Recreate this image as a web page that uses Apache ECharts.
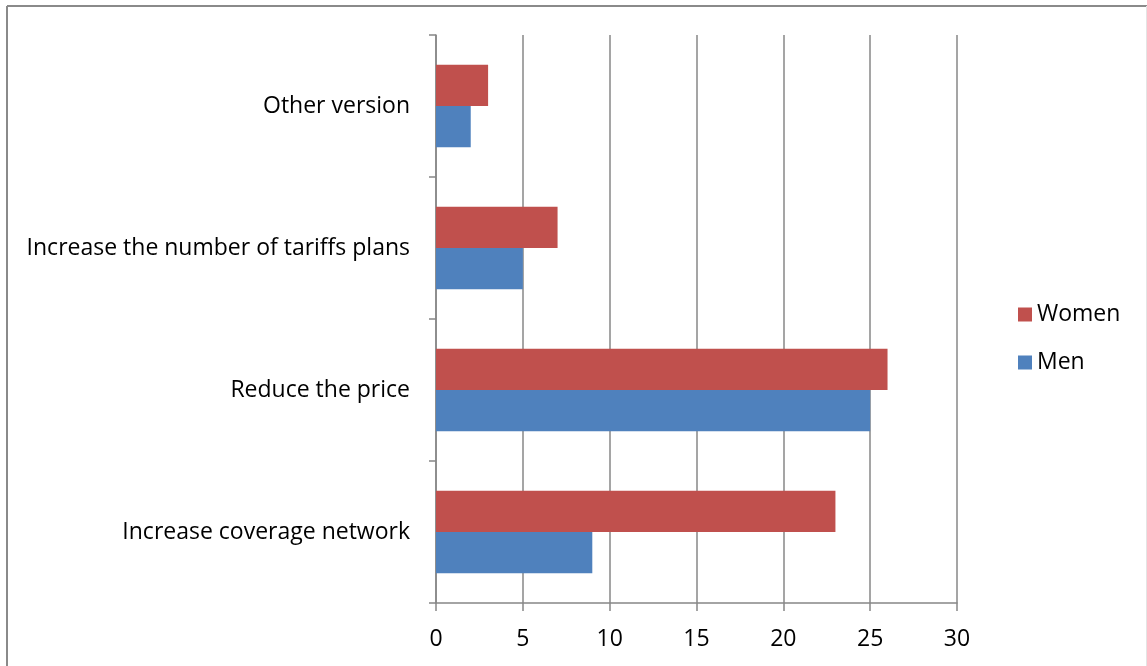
<!DOCTYPE html>
<html>
<head>
<meta charset="utf-8">
<script src="https://cdn.jsdelivr.net/npm/echarts@6/dist/echarts.min.js"></script>
<style>
  html, body { margin: 0; padding: 0; background: #fff; }
  #chart { width: 1147px; height: 666px; }
</style>
</head>
<body>
<div id="chart"></div>
<script>
// Suggested improvements, by respondent group
const categories = [
  'Increase coverage network',
  'Reduce the price',
  'Increase the number of tariffs plans',
  'Other version'
];
const menValues = [9, 25, 5, 2];
const womenValues = [23, 26, 7, 3];
const xTicks = { min: 0, max: 30, interval: 5 };

const FONT = '"Open Sans", Lato, sans-serif';
const FONT_SIZE = 23;
const AXIS_GREY = '#878787';

const chart = echarts.init(document.getElementById('chart'), null, { renderer: 'canvas' });

chart.setOption({
  backgroundColor: '#ffffff',
  animation: false,
  grid: { left: 436, right: 190, top: 35, bottom: 63, containLabel: false },
  legend: {
    data: ['Women', 'Men'],
    orient: 'vertical',
    left: 1013,
    top: 298,
    itemWidth: 14,
    itemHeight: 14,
    itemGap: 25,
    icon: 'rect',
    textStyle: { fontFamily: FONT, fontSize: FONT_SIZE, color: '#000', padding: [0, 0, 0, 0] }
  },
  xAxis: {
    type: 'value',
    min: xTicks.min,
    max: xTicks.max,
    interval: xTicks.interval,
    axisLine: { show: true, lineStyle: { color: AXIS_GREY, width: 1.5 } },
    axisTick: { show: true, length: 8, lineStyle: { color: AXIS_GREY, width: 1.5 } },
    splitLine: { show: true, lineStyle: { color: AXIS_GREY, width: 1.5 } },
    axisLabel: { fontFamily: FONT, fontSize: FONT_SIZE, color: '#000', margin: 25 }
  },
  yAxis: {
    type: 'category',
    data: categories,
    axisLine: { show: true, lineStyle: { color: AXIS_GREY, width: 1.5 } },
    axisTick: { show: true, length: 7, inside: false, lineStyle: { color: AXIS_GREY, width: 1.5 } },
    axisLabel: { fontFamily: FONT, fontSize: FONT_SIZE, color: '#000', margin: 26 },
    splitLine: { show: false }
  },
  series: [
    {
      name: 'Women',
      type: 'bar',
      data: womenValues,
      itemStyle: { color: '#C0504D' },
      barGap: '0%',
      barCategoryGap: '42%'
    },
    {
      name: 'Men',
      type: 'bar',
      data: menValues,
      itemStyle: { color: '#4F81BD' },
      barGap: '0%',
      barCategoryGap: '42%'
    }
  ],
  graphic: [
    // frame along the top and left edges of the chart area
    { type: 'line', shape: { x1: 7, y1: 6, x2: 1147, y2: 6 }, style: { stroke: '#8a8a8a', lineWidth: 2 } },
    { type: 'line', shape: { x1: 7, y1: 6, x2: 7, y2: 666 }, style: { stroke: '#8a8a8a', lineWidth: 2 } },
    { type: 'line', shape: { x1: 1146.5, y1: 6, x2: 1146.5, y2: 666 }, style: { stroke: '#e4e4e4', lineWidth: 1 } }
  ]
});
</script>
</body>
</html>
